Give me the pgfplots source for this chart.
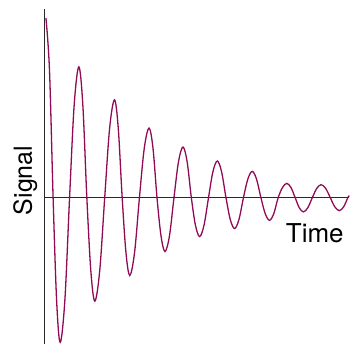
\documentclass[border=0pt]{standalone}
\usepackage{fontspec}
\setmainfont{TeX Gyre Heros}
\usepackage{pgfplots}
\pgfplotsset{compat=1.18}
\definecolor{sig}{RGB}{145,10,85}
\definecolor{axc}{RGB}{40,40,40}
\begin{document}
\begin{tikzpicture}
\begin{axis}[
  scale only axis,
  width=305pt, height=336pt,
  xmin=0, xmax=305, ymin=-147, ymax=189,
  axis lines=middle,
  axis line style={-, axc, line width=1.1pt},
  ticks=none,
  clip=false,
]
\addplot[sig, line width=1.3pt, smooth, tension=0.55] coordinates {
(1,180) (4.6,127.3) (8.2,0) (11.7,-102.5)
(15.3,-145) (20.0,-102.5) (24.7,0) (29.3,92.6)
(34,131) (38,92.6) (42,0) (46,-73.3)
(50,-103.7) (54.9,-73.3) (59.9,0) (64.8,69.3)
(69.7,98) (73.5,69.3) (77.4,0) (81.2,-55.1)
(85,-78) (89.8,-55.1) (94.7,0) (99.5,49.3)
(104.3,69.7) (108.3,49.3) (112.3,0) (116.3,-38.2)
(120.3,-54) (124.8,-38.2) (129.3,0) (133.8,35.8)
(138.3,50.7) (142.5,35.8) (146.7,0) (150.8,-27.6)
(155,-39) (159.4,-27.6) (163.9,0) (168.3,25.9)
(172.7,36.7) (177.0,25.9) (181.4,0) (185.7,-21.9)
(190,-31) (194.4,-21.9) (198.9,0) (203.3,18.6)
(207.7,26.3) (212.0,18.6) (216.4,0) (220.7,-16.0)
(225,-22.7) (229.3,-16.0) (233.7,0) (238.0,10.1)
(242.3,14.3) (246.5,10.1) (250.7,0) (254.8,-10.1)
(259,-14.3) (263.4,-10.1) (267.9,0) (272.3,9.2)
(276.7,13) (281.3,9.2) (285.9,0) (290.4,-9.2)
(295,-13) (299.3,-9.2) (303.5,0) (305,2)
};
\node[rotate=90, anchor=base, font=\fontsize{25}{30}\selectfont] at (axis cs:-13,17.2) {Signal};
\node[anchor=base east, inner sep=0pt, font=\fontsize{26}{31}\selectfont] at (axis cs:299.5,-45) {Time};
\coordinate (bl) at (axis cs:-45,-147);
\coordinate (tr) at (axis cs:305,198);
\end{axis}
\path (bl) rectangle (tr);
\end{tikzpicture}
\end{document}
